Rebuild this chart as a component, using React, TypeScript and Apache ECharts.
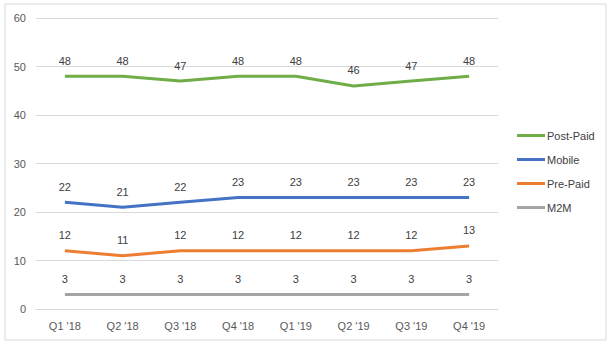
import React, { useEffect, useRef } from "react";
import * as echarts from "echarts";

const categories = ["Q1 '18", "Q2 '18", "Q3 '18", "Q4 '18", "Q1 '19", "Q2 '19", "Q3 '19", "Q4 '19"];
const postPaid = [48, 48, 47, 48, 48, 46, 47, 48];
const mobile = [22, 21, 22, 23, 23, 23, 23, 23];
const prePaid = [12, 11, 12, 12, 12, 12, 12, 13];
const m2m = [3, 3, 3, 3, 3, 3, 3, 3];
const seriesNames = ["Post-Paid", "Mobile", "Pre-Paid", "M2M"];
const seriesColors = ["#70AD47", "#4472C4", "#ED7D31", "#A5A5A5"];

export default function App() {
  const ref = useRef<HTMLDivElement>(null);
  useEffect(() => {
    if (!ref.current) return;
    const chart = echarts.init(ref.current, undefined, { renderer: "svg" });
    const data = [postPaid, mobile, prePaid, m2m];
    const font = "'Liberation Sans', Arial, sans-serif";
    chart.setOption({
      animation: false,
      textStyle: { fontFamily: font },
      graphic: [
        {
          type: "rect",
          shape: { x: 5, y: 4, width: 601, height: 336 },
          style: { fill: "#fff", stroke: "#d9d9d9", lineWidth: 1 },
          z: -10,
        },
      ],
      grid: { left: 36, right: 118, top: 18, bottom: 45 },
      legend: {
        orient: "vertical",
        left: 512,
        top: 125,
        itemWidth: 28,
        itemHeight: 3,
        itemGap: 13,
        itemStyle: { opacity: 1 },
        textStyle: { color: "#404040", fontSize: 11, fontFamily: font, padding: [0, 0, 0, -3] },
        data: seriesNames.map((n) => ({ name: n, icon: "rect" })),
      },
      xAxis: {
        type: "category",
        data: categories,
        boundaryGap: true,
        axisLine: { show: true, lineStyle: { color: "#d9d9d9" } },
        axisTick: { show: false },
        axisLabel: { color: "#595959", fontSize: 11, margin: 11, fontFamily: font },
      },
      yAxis: {
        type: "value",
        min: 0,
        max: 60,
        interval: 10,
        axisLine: { show: false },
        axisTick: { show: false },
        splitLine: { lineStyle: { color: "#d9d9d9" } },
        axisLabel: { color: "#595959", fontSize: 11, margin: 10, fontFamily: font },
      },
      series: seriesNames.map((name, i) => ({
        name,
        type: "line",
        data: data[i],
        symbol: "circle",
        symbolSize: 0,
        showSymbol: true,
        color: seriesColors[i],
        itemStyle: { color: seriesColors[i] },
        lineStyle: { width: 3, color: seriesColors[i] },
        label: {
          show: true,
          position: "top",
          distance: 10,
          color: "#404040",
          fontSize: 11,
          fontFamily: font,
        },
      })),
    });
    return () => chart.dispose();
  }, []);
  return (
    <div
      ref={ref}
      style={{ position: "fixed", left: 0, top: 0, width: 616, height: 354, background: "#fff" }}
    />
  );
}
